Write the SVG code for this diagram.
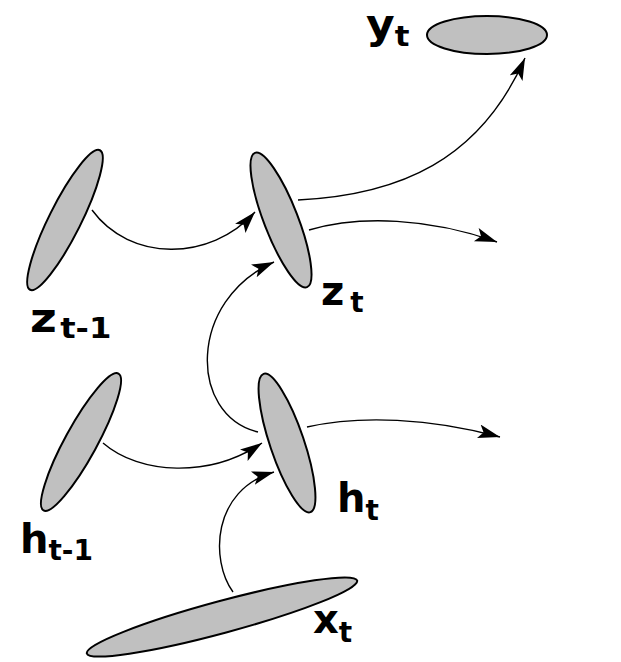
<svg xmlns="http://www.w3.org/2000/svg" width="621" height="662" viewBox="0 0 621 662">
<style>
.node{fill:#c0c0c0;stroke:#000;stroke-width:2}
.edge{fill:none;stroke:#000;stroke-width:1.4;marker-end:url(#arr)}
.lbl{font-family:"DejaVu Sans",sans-serif;font-weight:bold;font-size:40px;fill:#000}
.sub{font-size:28px}
</style>
<defs>
<marker id="arr" markerUnits="userSpaceOnUse" markerWidth="24" markerHeight="16" refX="22" refY="7" orient="auto">
<path d="M0,0 L22,7 L0,14 L5,7 Z" fill="#000"/>
</marker>
</defs>
<rect width="621" height="662" fill="#fff"/>
<g id="edges">
<path class="edge" d="M92,210 C130,262 210,262 255,212"/>
<path class="edge" d="M258,432 C188,415 188,300 274,262"/>
<path class="edge" d="M103,443 C140,475 210,478 262,443"/>
<path class="edge" d="M233,592 C210,560 212,490 274,472"/>
<path class="edge" d="M298,200 C400,195 480,160 525,58"/>
<path class="edge" d="M309,230 C360,215 430,218 497,242"/>
<path class="edge" d="M307,427 C360,415 430,418 500,437"/>
</g>
<g id="y_t">
<ellipse class="node" cx="487" cy="35" rx="60" ry="19"/>
<text class="lbl" x="366" y="38" transform="translate(366 0) scale(1.1 1) translate(-366 0)">y<tspan class="sub" dy="8">t</tspan></text>
</g>
<g id="z_t-1">
<ellipse class="node" cx="65" cy="220" rx="78" ry="16" transform="rotate(-63.4 65 220)"/>
<text class="lbl" x="30" y="332" transform="translate(30 0) scale(1.15 1) translate(-30 0)">z<tspan class="sub" dy="6" dx="3">t-1</tspan></text>
</g>
<g id="z_t">
<ellipse class="node" cx="281" cy="220" rx="72" ry="17" transform="rotate(68.8 281 220)"/>
<text class="lbl" x="321" y="305">z<tspan class="sub" dy="7" dx="6">t</tspan></text>
</g>
<g id="h_t-1">
<ellipse class="node" cx="81" cy="442" rx="78" ry="16" transform="rotate(-61.3 81 442)"/>
<text class="lbl" x="20" y="553">h<tspan class="sub" dy="7">t-1</tspan></text>
</g>
<g id="h_t">
<ellipse class="node" cx="287" cy="443" rx="73" ry="17" transform="rotate(71.3 287 443)"/>
<text class="lbl" x="337" y="512">h<tspan class="sub" dy="8">t</tspan></text>
</g>
<g id="x_t">
<ellipse class="node" cx="222" cy="617" rx="140" ry="16" transform="rotate(-15.1 222 617)"/>
<text class="lbl" x="313" y="633">x<tspan class="sub" dy="9">t</tspan></text>
</g>
</svg>
